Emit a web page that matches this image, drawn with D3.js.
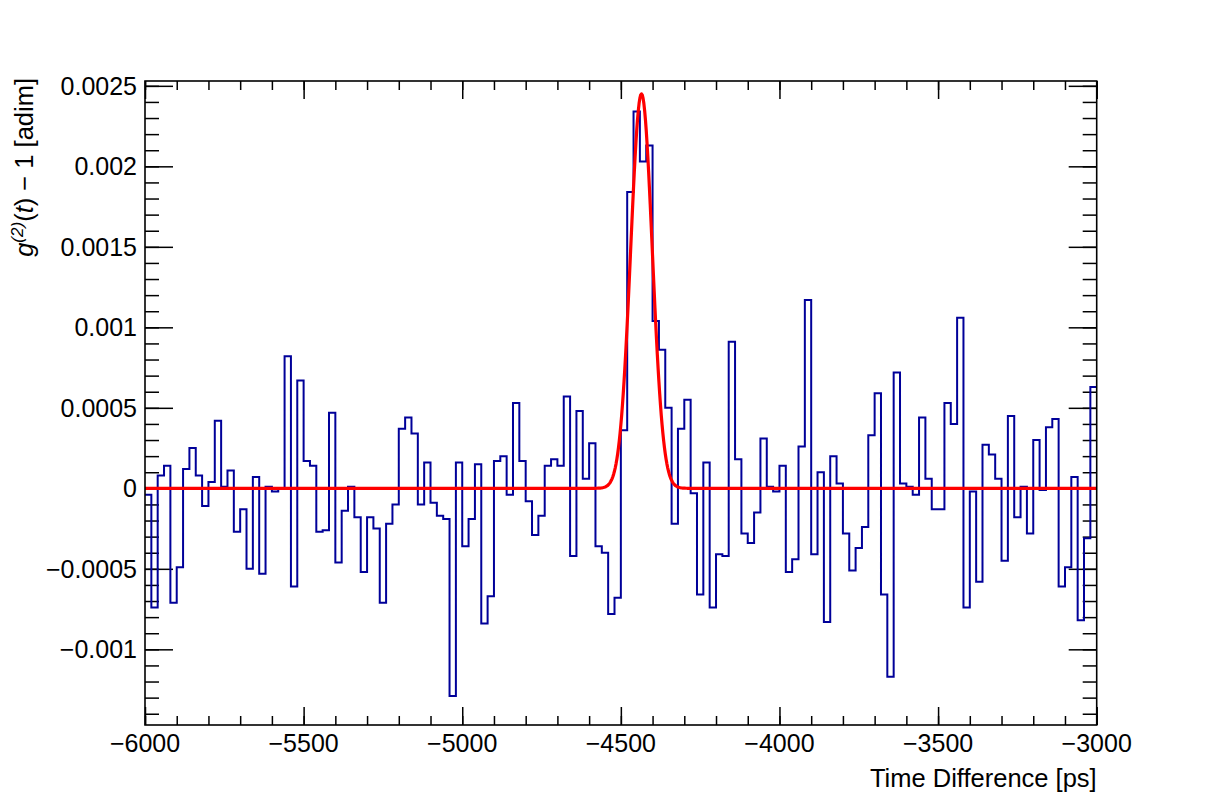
<!DOCTYPE html>
<html><head><meta charset="utf-8">
<script src="https://cdn.jsdelivr.net/npm/d3@7"></script>
<style>html,body{margin:0;padding:0;background:#fff;} svg{display:block;}</style>
</head><body>
<script>
// ---- data ----
const binLow = -6000;
const binWidth = 20;
const binValues = [
 -0.00004,-0.00074,0.00008,0.00014,-0.00071,-0.00049,0.00012,0.00025,0.00008,-0.00011,
 0.00004,0.00042,0.00001,0.00011,-0.00027,-0.00013,-0.00050,0.00007,-0.00053,0.00001,
 -0.00002,0.00000,0.00082,-0.00061,0.00067,0.00017,0.00014,-0.00027,-0.00026,0.00047,
 -0.00046,-0.00014,0.00001,-0.00018,-0.00052,-0.00018,-0.00025,-0.00071,-0.00022,-0.00010,
 0.00037,0.00044,0.00034,-0.00010,0.00016,-0.00009,-0.00017,-0.00019,-0.00129,0.00016,
 -0.00036,-0.00019,0.00015,-0.00084,-0.00067,0.00017,0.00020,-0.00004,0.00053,0.00017,
 -0.00008,-0.00029,-0.00017,0.00014,0.00018,0.00014,0.00057,-0.00042,0.00048,0.00006,
 0.00028,-0.00036,-0.00040,-0.00078,-0.00068,0.00036,0.00184,0.00234,0.00203,0.00213,
 0.00104,0.00086,0.00050,-0.00022,0.00037,0.00055,-0.00003,-0.00066,0.00016,-0.00074,
 -0.00041,-0.00042,0.00091,0.00018,-0.00028,-0.00034,-0.00015,0.00031,0.00001,-0.00002,
 0.00014,-0.00052,-0.00044,0.00026,0.00117,-0.00041,0.00010,-0.00083,0.00020,0.00003,
 -0.00028,-0.00051,-0.00037,-0.00024,0.00033,0.00059,-0.00066,-0.00117,0.00072,0.00003,
 0.00001,-0.00004,0.00044,0.00006,-0.00013,-0.00013,0.00053,0.00040,0.00106,-0.00074,
 -0.00002,-0.00058,0.00027,0.00021,0.00006,-0.00045,0.00045,-0.00018,0.00001,-0.00028,
 0.00030,-0.00001,0.00038,0.00043,-0.00061,-0.00049,0.00007,-0.00082,-0.00031,0.00063
];
const xTickValues = [-6000,-5500,-5000,-4500,-4000,-3500,-3000];
const xTickLabels = ["\u22126000","\u22125500","\u22125000","\u22124500","\u22124000","\u22123500","\u22123000"];
const yTickValues = [-0.001,-0.0005,0,0.0005,0.001,0.0015,0.002,0.0025];
const yTickLabels = ["\u22120.001","\u22120.0005","0","0.0005","0.001","0.0015","0.002","0.0025"];
// Gaussian fit parameters
const fitAmplitude = 0.00245;
const fitMean = -4435;
const fitSigma = 34;
const fitBaseline = 0;

// ---- drawing ----
const W = 1216, H = 807;
const L = 145, R = 1096.7, T = 81, B = 725;
const xDomain = [-6000, -3000];
const yDomain = [-0.00147, 0.00253];
const x = d3.scaleLinear().domain(xDomain).range([L, R]);
const y = d3.scaleLinear().domain(yDomain).range([B, T]);
const font = "'Liberation Sans', Arial, Helvetica, sans-serif";

const svg = d3.select("body").append("svg").attr("width", W).attr("height", H)
  .style("font-family", font);
svg.append("rect").attr("width", W).attr("height", H).attr("fill", "#fff");

const clipId = "plotclip";
svg.append("clipPath").attr("id", clipId).append("rect")
  .attr("x", L).attr("y", T).attr("width", R - L).attr("height", B - T);

// axes ticks (drawn first, under the data)
const xMinor = d3.range(-6000, -2999, 100);
const yMinor = d3.range(-14, 26).map(k => k * 0.0001);
const noLab = () => "";
function addAxis(axis, tr) {
  const g = svg.append("g").attr("transform", tr).call(axis);
  g.select(".domain").remove();
  g.selectAll("line").attr("stroke", "#000").attr("stroke-width", 1.5);
  g.selectAll("text").remove();
}
addAxis(d3.axisBottom(x).tickValues(xTickValues).tickSize(-18).tickFormat(noLab), `translate(0,${B})`);
addAxis(d3.axisBottom(x).tickValues(xMinor).tickSize(-9).tickFormat(noLab), `translate(0,${B})`);
addAxis(d3.axisTop(x).tickValues(xTickValues).tickSize(-18).tickFormat(noLab), `translate(0,${T})`);
addAxis(d3.axisTop(x).tickValues(xMinor).tickSize(-9).tickFormat(noLab), `translate(0,${T})`);
addAxis(d3.axisLeft(y).tickValues(yTickValues).tickSize(-28).tickFormat(noLab), `translate(${L},0)`);
addAxis(d3.axisLeft(y).tickValues(yMinor).tickSize(-14).tickFormat(noLab), `translate(${L},0)`);
addAxis(d3.axisRight(y).tickValues(yTickValues).tickSize(-28).tickFormat(noLab), `translate(${R},0)`);
addAxis(d3.axisRight(y).tickValues(yMinor).tickSize(-14).tickFormat(noLab), `translate(${R},0)`);

// histogram step outline
const pts = [];
binValues.forEach((v, i) => {
  const x0 = binLow + i * binWidth, x1 = x0 + binWidth;
  pts.push([x(x0), y(v)]);
  pts.push([x(x1), y(v)]);
});
svg.append("path")
  .attr("d", d3.line()(pts))
  .attr("fill", "none")
  .attr("stroke", "#000099")
  .attr("stroke-width", 2)
  .attr("clip-path", `url(#${clipId})`);

// fit curve
const fitX = d3.range(0, 1201).map(k => xDomain[0] + k * (xDomain[1] - xDomain[0]) / 1200);
const fitLine = d3.line()
  .x(t => x(t))
  .y(t => y(fitBaseline + fitAmplitude * Math.exp(-0.5 * Math.pow((t - fitMean) / fitSigma, 2))));
svg.append("path")
  .attr("d", fitLine(fitX))
  .attr("fill", "none")
  .attr("stroke", "#ff0000")
  .attr("stroke-width", 3.2)
  .attr("stroke-linejoin", "round")
  .attr("clip-path", `url(#${clipId})`);

// frame
svg.append("rect").attr("x", L).attr("y", T).attr("width", R - L).attr("height", B - T)
  .attr("fill", "none").attr("stroke", "#000").attr("stroke-width", 1.6);

// tick labels
svg.append("g").selectAll("text").data(xTickValues).join("text")
  .attr("x", d => x(d)).attr("y", 752)
  .attr("text-anchor", "middle").attr("font-size", 25)
  .text((d, i) => xTickLabels[i]);
svg.append("g").selectAll("text").data(yTickValues).join("text")
  .attr("x", 137).attr("y", d => y(d) + 9)
  .attr("text-anchor", "end").attr("font-size", 25)
  .text((d, i) => yTickLabels[i]);

// axis titles
svg.append("text").attr("x", R).attr("y", 787).attr("text-anchor", "end")
  .attr("font-size", 25.5).text("Time Difference [ps]");

const yt = svg.append("text").attr("transform", "translate(33,78) rotate(-90)")
  .attr("text-anchor", "end").attr("font-size", 25.5);
yt.append("tspan").attr("font-style", "italic").text("g");
yt.append("tspan").attr("font-style", "italic").attr("font-size", 17).attr("dy", -10).text("(2)");
yt.append("tspan").attr("dy", 10).text("(");
yt.append("tspan").attr("font-style", "italic").text("t");
yt.append("tspan").text(") \u2212 1 [adim]");
</script>
</body></html>
